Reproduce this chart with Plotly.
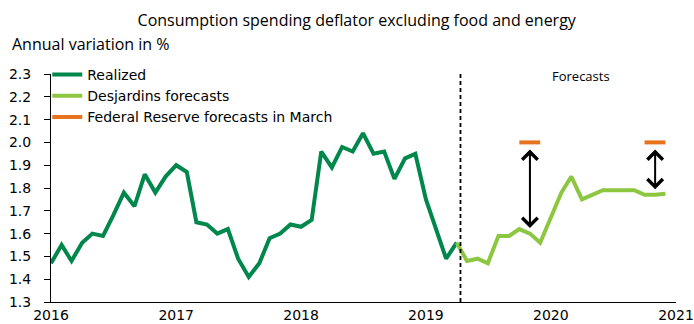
import plotly.graph_objects as go
import pandas as pd

# ---- data ----
realized_start = "2016-01-01"
realized = [1.47, 1.55, 1.48, 1.56, 1.60, 1.59, 1.68, 1.78, 1.72, 1.86, 1.78, 1.85,
            1.90, 1.87, 1.65, 1.64, 1.60, 1.62, 1.49, 1.41, 1.47, 1.58, 1.60, 1.64,
            1.63, 1.66, 1.96, 1.89, 1.98, 1.96, 2.04, 1.95, 1.96, 1.84, 1.93, 1.95,
            1.75, 1.62, 1.49, 1.56]
desj_start = "2019-04-01"
desjardins = [1.56, 1.48, 1.49, 1.47, 1.59, 1.59, 1.62, 1.60, 1.56,
              1.67, 1.78, 1.85, 1.75, 1.77, 1.79, 1.79, 1.79, 1.79, 1.77, 1.77, 1.775]
fed_years = [2019, 2020]
fed_values = [2.0, 2.0]
forecast_line_date = "2019-04-12"
year_ticks = ["2016", "2017", "2018", "2019", "2020", "2021"]

realized_x = pd.date_range(realized_start, periods=len(realized), freq="MS")
desj_x = pd.date_range(desj_start, periods=len(desjardins), freq="MS")
desj_series = pd.Series(desjardins, index=desj_x)

fed_x, fed_y = [], []
for yr, v in zip(fed_years, fed_values):
    fed_x += [f"{yr}-10-01", f"{yr}-12-01", None]
    fed_y += [v, v, None]

DARK = "#00874B"
LIGHT = "#8DC641"
ORANGE = "#E8731E"

fig = go.Figure()
fig.add_trace(go.Scatter(x=realized_x, y=realized, mode="lines", name="Realized",
                         line=dict(color=DARK, width=4)))
fig.add_trace(go.Scatter(x=desj_x, y=desjardins, mode="lines", name="Desjardins forecasts",
                         line=dict(color=LIGHT, width=4)))
fig.add_trace(go.Scatter(x=fed_x, y=fed_y, mode="lines", name="Federal Reserve forecasts in March",
                         line=dict(color=ORANGE, width=4), connectgaps=False))

# arrows between Fed and Desjardins in November of each year
gap = 0.025
for yr, v in zip(fed_years, fed_values):
    d = f"{yr}-11-01"
    dv = float(desj_series[pd.Timestamp(d)])
    fig.add_annotation(x=d, y=dv + gap, ax=d, ay=v - gap, xref="x", yref="y",
                       axref="x", ayref="y", showarrow=True, arrowhead=4,
                       startarrowhead=4, arrowside="end+start", arrowsize=1.5,
                       startarrowsize=1.5, arrowwidth=2, arrowcolor="black", text="")

fig.add_shape(type="line", x0=forecast_line_date, x1=forecast_line_date, xref="x",
              y0=0, y1=1, yref="paper", line=dict(color="black", width=1.8, dash="4px,3px"))

fig.add_annotation(text="Annual variation in %", xref="paper", yref="paper",
                   x=-0.066, y=1.1316, xanchor="left", yanchor="middle", showarrow=False,
                   font=dict(family="Open Sans", size=16, color="black"))
fig.add_annotation(text="Forecasts", xref="paper", yref="paper",
                   x=0.848, y=0.991, xanchor="center", yanchor="middle", showarrow=False,
                   font=dict(family="Open Sans", size=13, color="black"))

fig.update_layout(
    width=694, height=324,
    margin=dict(l=51, r=18, t=74, b=22, autoexpand=False),
    paper_bgcolor="white", plot_bgcolor="white",
    title=dict(text="Consumption spending deflator excluding food and energy",
               x=0.514, xref="container", xanchor="center",
               y=0.938, yref="container", yanchor="middle",
               font=dict(family="Open Sans", size=16, color="black")),
    showlegend=True,
    legend=dict(x=-0.006, xanchor="left", y=1.066, yanchor="top",
                bgcolor="rgba(0,0,0,0)", font=dict(family="DejaVu Sans", size=14, color="black"),
                tracegroupgap=0, itemwidth=30),
    font=dict(family="DejaVu Sans", size=14, color="black"),
)
fig.update_xaxes(range=["2016-01-01", "2021-01-01"], tickvals=[f"{y}-01-01" for y in year_ticks],
                 ticktext=year_ticks, showline=True, linecolor="black", linewidth=1,
                 ticks="", showgrid=False, zeroline=False, ticklabeloverflow="allow",
                 tickfont=dict(family="DejaVu Sans", size=14, color="black"))
fig.update_yaxes(range=[1.3, 2.3], dtick=0.1, tick0=1.3, tickformat=".1f",
                 showline=True, linecolor="black", linewidth=1, ticks="outside",
                 ticklen=6, tickcolor="black", tickwidth=1, showgrid=False, zeroline=False,
                 ticklabelstandoff=10,
                 tickfont=dict(family="DejaVu Sans", size=14, color="black"))

fig.write_html("out.html")
